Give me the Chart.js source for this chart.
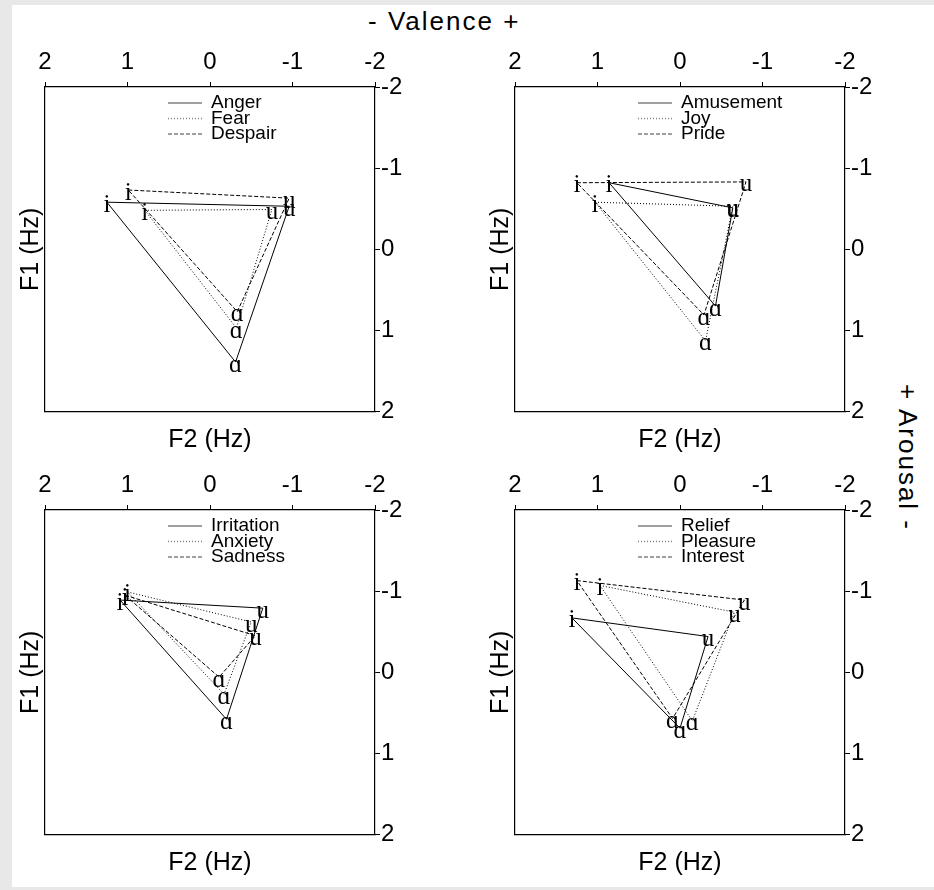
<!DOCTYPE html>
<html>
<head>
<meta charset="utf-8">
<script src="https://cdn.jsdelivr.net/npm/chart.js@4.4.1/dist/chart.umd.min.js"></script>
<style>
  html, body { margin: 0; padding: 0; background: #e8e8e8; }
  #page { position: absolute; left: 12px; top: 5px; width: 922px; height: 882px; background: #fff; }
  canvas { position: absolute; }
  .side-title { position: absolute; font-family: "Liberation Sans", Arial, sans-serif; font-size: 26px; letter-spacing: 2px; color: #000; white-space: nowrap; }
  #valence { left: 368px; top: 6px; }
  #arousal { left: 892px; top: 384px; writing-mode: vertical-rl; }
</style>
</head>
<body>
<div id="page"></div>
<div class="side-title" id="valence">- Valence +</div>
<div class="side-title" id="arousal">+ Arousal -</div>
<canvas id="p1" width="420" height="420" style="left:0;top:35px"></canvas>
<canvas id="p2" width="420" height="420" style="left:470px;top:35px"></canvas>
<canvas id="p3" width="420" height="420" style="left:0;top:458px"></canvas>
<canvas id="p4" width="420" height="420" style="left:470px;top:458px"></canvas>
<script>
// vowel corners, in i / u / ɑ order
const vowels = ['i', 'u', 'ɑ'];
const axisTicks = [-2, -1, 0, 1, 2];

// top left: negative valence, high arousal
const negHighNames = ['Anger', 'Fear', 'Despair'];
const negHighF2 = [[1.25, -0.96, -0.31], [0.79, -0.75, -0.32], [0.99, -0.96, -0.33]];
const negHighF1 = [[-0.58, -0.53, 1.39], [-0.48, -0.49, 0.97], [-0.73, -0.63, 0.77]];

// top right: positive valence, high arousal
const posHighNames = ['Amusement', 'Joy', 'Pride'];
const posHighF2 = [[0.86, -0.64, -0.43], [1.03, -0.64, -0.31], [1.25, -0.80, -0.29]];
const posHighF1 = [[-0.82, -0.51, 0.70], [-0.58, -0.53, 1.13], [-0.82, -0.83, 0.81]];

// bottom left: negative valence, low arousal
const negLowNames = ['Irritation', 'Anxiety', 'Sadness'];
const negLowF2 = [[1.09, -0.64, -0.20], [1.00, -0.50, -0.17], [1.03, -0.55, -0.11]];
const negLowF1 = [[-0.89, -0.79, 0.58], [-0.99, -0.62, 0.27], [-0.95, -0.45, 0.06]];

// bottom right: positive valence, low arousal
const posLowNames = ['Relief', 'Pleasure', 'Interest'];
const posLowF2 = [[1.31, -0.34, 0.00], [0.97, -0.66, -0.15], [1.25, -0.78, 0.09]];
const posLowF1 = [[-0.67, -0.44, 0.69], [-1.07, -0.74, 0.60], [-1.13, -0.89, 0.57]];

const lineDashes = [[], [1, 2], [4, 2]];

Chart.defaults.font.family = '"Liberation Sans", Arial, sans-serif';
Chart.defaults.color = '#000';

const vowelLabels = {
  id: 'vowelLabels',
  afterDatasetsDraw(chart) {
    const { ctx, scales } = chart;
    ctx.save();
    ctx.font = '25px "Liberation Serif", "DejaVu Serif", serif';
    ctx.fillStyle = '#000';
    ctx.textAlign = 'center';
    ctx.textBaseline = 'middle';
    chart.data.datasets.forEach((ds) => {
      vowels.forEach((v, i) => {
        const pt = ds.data[i];
        ctx.fillText(v, scales.x.getPixelForValue(pt.x), scales.y.getPixelForValue(pt.y) + 3);
      });
    });
    ctx.restore();
  },
};

const innerLegend = {
  id: 'innerLegend',
  afterDraw(chart) {
    const { ctx, chartArea } = chart;
    ctx.save();
    ctx.font = '19px "Liberation Sans", Arial, sans-serif';
    ctx.textBaseline = 'middle';
    chart.data.datasets.forEach((ds, i) => {
      const y = chartArea.top + 16 + i * 15.5;
      ctx.strokeStyle = '#808080';
      ctx.lineWidth = 1.5;
      ctx.setLineDash(ds.borderDash);
      ctx.beginPath();
      ctx.moveTo(chartArea.left + 123, y);
      ctx.lineTo(chartArea.left + 157, y);
      ctx.stroke();
      ctx.setLineDash([]);
      ctx.fillStyle = '#000';
      ctx.fillText(ds.label, chartArea.left + 166, y);
    });
    ctx.restore();
  },
};

function setTicks(scale) {
  scale.ticks = axisTicks.map((value) => ({ value }));
}

function makePanel(canvasId, names, f2, f1) {
  const datasets = names.map((name, k) => {
    const points = vowels.map((v, i) => ({ x: f2[k][i], y: f1[k][i] }));
    points.push(points[0]); // close the triangle
    return {
      label: name,
      data: points,
      borderColor: '#000',
      borderWidth: 1,
      borderDash: lineDashes[k],
      showLine: true,
      pointRadius: 0,
      tension: 0,
      xAxisID: 'x',
      yAxisID: 'y',
    };
  });

  const tickFont = { size: 24 };
  const titleFont = { size: 25 };

  return new Chart(document.getElementById(canvasId), {
    type: 'scatter',
    data: { datasets },
    options: {
      responsive: false,
      animation: false,
      layout: { padding: 0 },
      plugins: { legend: { display: false }, tooltip: { enabled: false } },
      scales: {
        x: {
          type: 'linear',
          position: 'top',
          reverse: true,
          min: -2,
          max: 2,
          afterBuildTicks: setTicks,
          afterFit: (scale) => { scale.height = 52; },
          ticks: { font: tickFont, color: '#000', padding: 5, maxRotation: 0 },
          grid: { drawOnChartArea: false, tickLength: 5, color: '#000' },
          border: { color: '#000', width: 1.2 },
        },
        y: {
          type: 'linear',
          position: 'right',
          reverse: true,
          min: -2,
          max: 2,
          afterBuildTicks: setTicks,
          afterFit: (scale) => { scale.width = 45; },
          ticks: { font: tickFont, color: '#000', padding: 1 },
          grid: { drawOnChartArea: false, tickLength: 5, color: '#000' },
          border: { color: '#000', width: 1.2 },
        },
        xb: {
          type: 'linear',
          position: 'bottom',
          min: -2,
          max: 2,
          afterFit: (scale) => { scale.height = 43.5; },
          ticks: { display: false },
          grid: { display: false, drawTicks: false },
          border: { color: '#000', width: 1.2 },
          title: { display: true, text: 'F2 (Hz)', font: titleFont, color: '#000', padding: 0 },
        },
        yl: {
          type: 'linear',
          position: 'left',
          min: -2,
          max: 2,
          afterFit: (scale) => { scale.width = 45; },
          ticks: { display: false },
          grid: { display: false, drawTicks: false },
          border: { color: '#000', width: 1.2 },
          title: { display: true, text: 'F1 (Hz)', font: titleFont, color: '#000', padding: { top: 16, bottom: 0 } },
        },
      },
    },
    plugins: [vowelLabels, innerLegend],
  });
}

makePanel('p1', negHighNames, negHighF2, negHighF1);
makePanel('p2', posHighNames, posHighF2, posHighF1);
makePanel('p3', negLowNames, negLowF2, negLowF1);
makePanel('p4', posLowNames, posLowF2, posLowF1);
</script>
</body>
</html>
